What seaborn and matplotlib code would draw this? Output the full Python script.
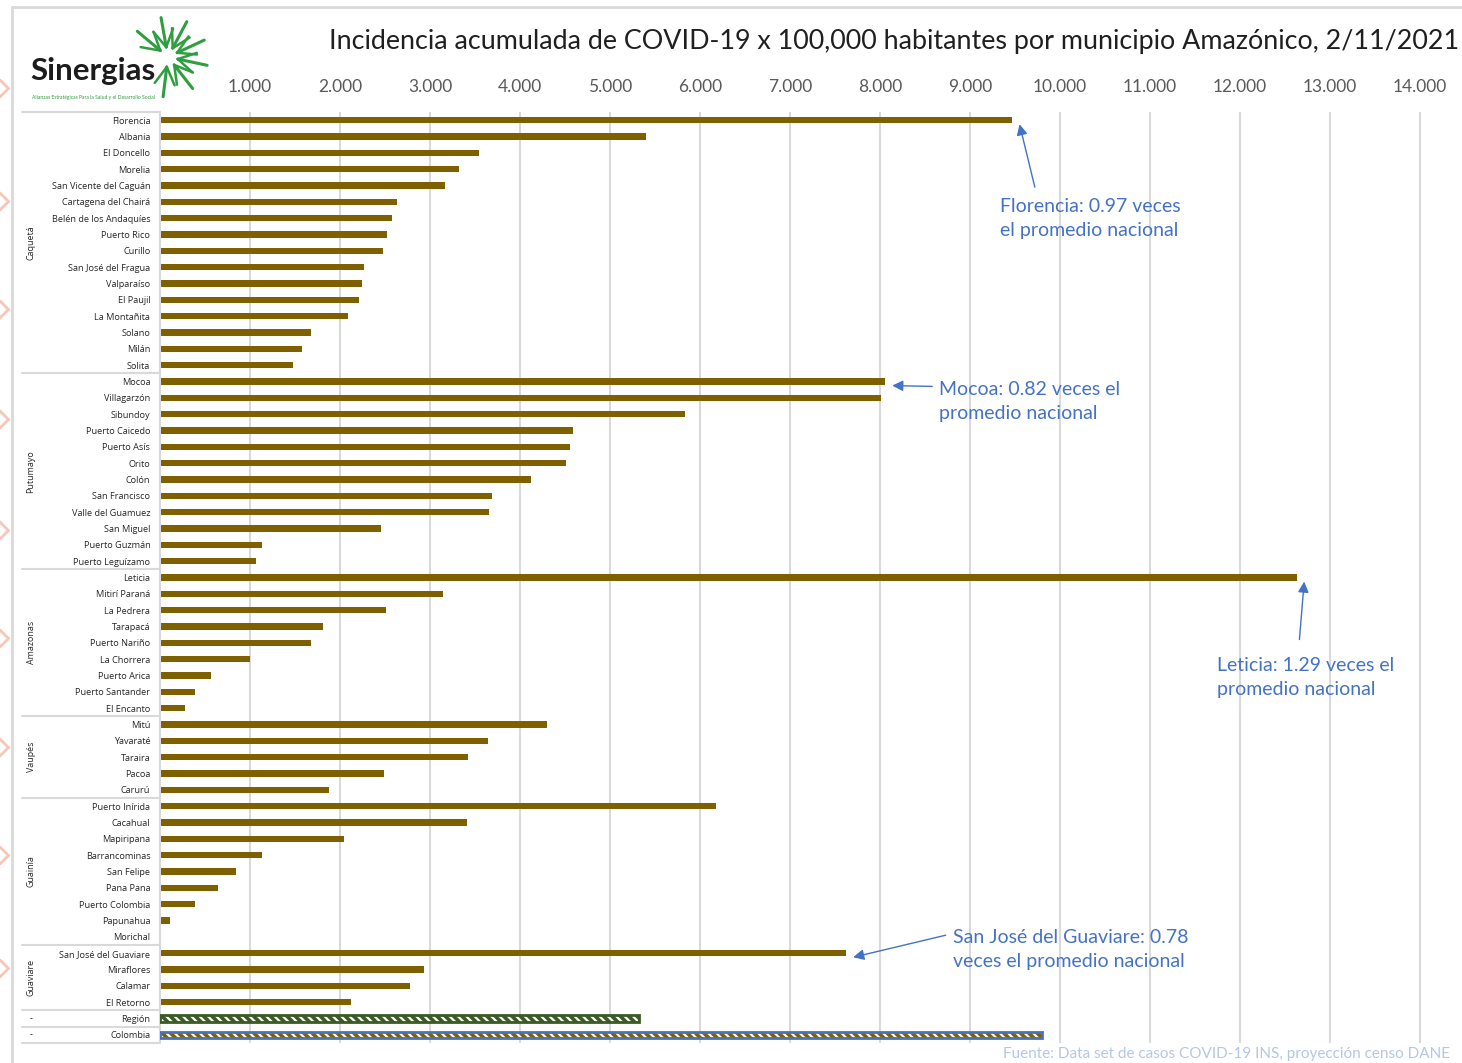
import numpy as np
import pandas as pd
import matplotlib
matplotlib.use("Agg")
import matplotlib.pyplot as plt
import seaborn as sns
from matplotlib.patches import Rectangle
from matplotlib.lines import Line2D
from matplotlib.transforms import blended_transform_factory

# ---- data ----
caqueta = ["Florencia", "Albania", "El Doncello", "Morelia", "San Vicente del Caguán",
           "Cartagena del Chairá", "Belén de los Andaquíes", "Puerto Rico", "Curillo",
           "San José del Fragua", "Valparaíso", "El Paujil", "La Montañita", "Solano",
           "Milán", "Solita"]
caqueta_vals = [9470, 5400, 3548, 3320, 3170, 2633, 2578, 2520, 2475, 2267, 2244, 2211,
                2086, 1678, 1582, 1478]

putumayo = ["Mocoa", "Villagarzón", "Sibundoy", "Puerto Caicedo", "Puerto Asís", "Orito",
            "Colón", "San Francisco", "Valle del Guamuez", "San Miguel", "Puerto Guzmán",
            "Puerto Leguízamo"]
putumayo_vals = [8056, 8008, 5837, 4589, 4552, 4508, 4119, 3685, 3652, 2459, 1137, 1067]

amazonas = ["Leticia", "Mitirí Paraná", "La Pedrera", "Tarapacá", "Puerto Nariño",
            "La Chorrera", "Puerto Arica", "Puerto Santander", "El Encanto"]
amazonas_vals = [12633, 3148, 2507, 1807, 1681, 996, 563, 393, 274]

vaupes = ["Mitú", "Yavaraté", "Taraira", "Pacoa", "Carurú"]
vaupes_vals = [4304, 3641, 3422, 2485, 1878]

guainia = ["Puerto Inírida", "Cacahual", "Mapiripana", "Barrancominas", "San Felipe",
           "Pana Pana", "Puerto Colombia", "Papunahua", "Morichal"]
guainia_vals = [6178, 3411, 2048, 1133, 848, 641, 393, 115, 0]

guaviare = ["San José del Guaviare", "Miraflores", "Calamar", "El Retorno"]
guaviare_vals = [7622, 2930, 2781, 2119]

resumen = ["Región", "Colombia"]
resumen_vals = [5322, 9800]

groups = [("Caquetá", caqueta, caqueta_vals), ("Putumayo", putumayo, putumayo_vals),
          ("Amazonas", amazonas, amazonas_vals), ("Vaupés", vaupes, vaupes_vals),
          ("Guainía", guainia, guainia_vals), ("Guaviare", guaviare, guaviare_vals),
          ("-", ["Región"], [resumen_vals[0]]), ("-", ["Colombia"], [resumen_vals[1]])]

rows = []
for dept, names, vals in groups:
    for n, v in zip(names, vals):
        rows.append({"depto": dept, "municipio": n, "incidencia": v})
df = pd.DataFrame(rows)

title = "Incidencia acumulada de COVID-19 x 100,000 habitantes por municipio Amazónico, 2/11/2021"
source = "Fuente: Data set de casos COVID-19 INS, proyección censo DANE"
notes = [
    ("Florencia: 0.97 veces\nel promedio nacional", "Florencia", (9720, 4.1), (9330, 6.0)),
    ("Mocoa: 0.82 veces el\npromedio nacional", "Mocoa", (8580, 16.3), (8650, 17.2)),
    ("Leticia: 1.29 veces el\npromedio nacional", "Leticia", (12660, 31.8), (11740, 34.1)),
    ("San José del Guaviare: 0.78\nveces el promedio nacional", "San José del Guaviare",
     (8730, 49.9), (8810, 50.8)),
]

# ---- style ----
BROWN = "#7f6000"
GREEN = "#3b5b25"
BLUE = "#4472c4"
GRID = "#d9d9d9"

sns.set_theme(style="white")
plt.rcParams["font.family"] = ["Lato", "DejaVu Sans"]
plt.rcParams["hatch.linewidth"] = 1.6

W, H = 1462, 1063
fig = plt.figure(figsize=(W / 100, H / 100), dpi=100)


def px(x, y):
    return x / W, 1 - y / H


ax = fig.add_axes([160 / W, 20 / H, 1290 / W, 931 / H])

sns.barplot(data=df, x="incidencia", y="municipio", orient="h", color=BROWN,
            saturation=1, width=0.38, linewidth=0, ax=ax)

n = len(df)
ax.set_ylim(n - 0.5, -0.5)
ax.set_xlim(0, 14333)
ax.set_xlabel("")
ax.set_ylabel("")

# hatched summary bars
bars = ax.patches[:n]
for bar, face, hatch_c, edge in [(bars[-2], GREEN, "white", GREEN),
                                 (bars[-1], BROWN, "white", BLUE)]:
    bar.set_facecolor(face)
    bar.set_edgecolor(hatch_c)
    bar.set_hatch("\\\\\\\\")
    bar.set_linewidth(0)
    ax.add_patch(Rectangle(bar.get_xy(), bar.get_width(), bar.get_height(), fill=False,
                           edgecolor=edge, linewidth=2, zorder=3))

# axis on top
ticks = np.arange(1000, 14001, 1000)
ax.xaxis.tick_top()
ax.set_xticks(ticks)
ax.set_xticklabels([f"{t:,}".replace(",", ".") for t in ticks], fontsize=12.5,
                   color="#595959")
ax.tick_params(axis="x", length=0, pad=12)
ax.tick_params(axis="y", length=0, pad=7)
for lbl in ax.get_yticklabels():
    lbl.set_fontfamily(["Open Sans", "DejaVu Sans"])
    lbl.set_fontsize(6.6)
    lbl.set_color("#262626")
ax.grid(axis="x", color=GRID, linewidth=1.5)
ax.set_axisbelow(True)
for s in ["top", "right", "bottom"]:
    ax.spines[s].set_visible(False)
ax.spines["left"].set_color(GRID)
ax.spines["left"].set_linewidth(1.5)

# department grouping lines and labels
trans = blended_transform_factory(ax.transAxes, ax.transData)
x_left = (22 - 160) / 1290
start = 0
ax.plot([x_left, 0], [-0.5, -0.5], color=GRID, lw=1.5, transform=trans, clip_on=False)
for dept, names, vals in groups:
    end = start + len(names)
    ax.plot([x_left, 0], [end - 0.5, end - 0.5], color=GRID, lw=1.5, transform=trans,
            clip_on=False)
    mid = (start + end - 1) / 2
    ax.text((31 - 160) / 1290, mid, dept, rotation=90 if dept != "-" else 0,
            ha="center", va="center", fontsize=6.4, color="#262626", transform=trans,
            family=["Open Sans", "DejaVu Sans"])
    start = end

# annotations
pos = {m: i for i, m in enumerate(df["municipio"])}
for text, muni, tail, tpos in notes:
    i = pos[muni]
    v = df["incidencia"].iloc[i]
    ax.annotate("", xy=(v + 80, i + 0.25), xytext=tail,
                arrowprops=dict(arrowstyle="-|>", color=BLUE, lw=1, mutation_scale=16,
                                shrinkA=0, shrinkB=0))
    ax.text(tpos[0], tpos[1], text, color=BLUE, fontsize=14, ha="left", va="center",
            linespacing=1.5)

# title and source
fig.text(*px(1459, 41), title, fontsize=19.4, ha="right", va="center", color="#1f1f1f")
fig.text(*px(1450, 1054), source, fontsize=11, ha="right", va="center", color="#b4c7e7")

# outer frame
fig.add_artist(Rectangle(px(12, 1080), 1500 / W, (1080 - 7) / H, fill=False,
                         edgecolor=GRID, linewidth=2, transform=fig.transFigure))

# pink edge marks
for y in [88, 201, 309, 419, 530, 638, 747, 855, 968]:
    fig.add_artist(Line2D([0], [1 - y / H], marker="D", markersize=8, color="#f7c6b8",
                          markerfacecolor="none", markeredgewidth=2,
                          transform=fig.transFigure))

# logo
fig.text(*px(30, 71), "Sinergias", fontsize=22.5, fontweight="bold", ha="left",
         va="center", color="#1c1c1c")
fig.text(*px(32, 97), "Alianzas Estratégicas Para la Salud y el Desarrollo Social",
         fontsize=3.6, ha="left", va="center", color="#2f9e41")
cx, cy = 168, 57
for ang in [100, 140, 62, 25, -12, -52, -97]:
    a = np.deg2rad(ang)
    x0, y0 = cx + 10 * np.cos(a), cy - 10 * np.sin(a)
    x1, y1 = cx + 40 * np.cos(a), cy - 40 * np.sin(a)
    fig.add_artist(Line2D([x0 / W, x1 / W], [1 - y0 / H, 1 - y1 / H], color="#2f9e41",
                          lw=2.2, transform=fig.transFigure))
    for d in [30, -30]:
        b = a + np.deg2rad(d)
        x2, y2 = x0 + 20 * np.cos(b), y0 - 20 * np.sin(b)
        fig.add_artist(Line2D([x0 / W, x2 / W], [1 - y0 / H, 1 - y2 / H], color="#2f9e41",
                              lw=1.8, transform=fig.transFigure))

fig.savefig("out.png", dpi=100)
